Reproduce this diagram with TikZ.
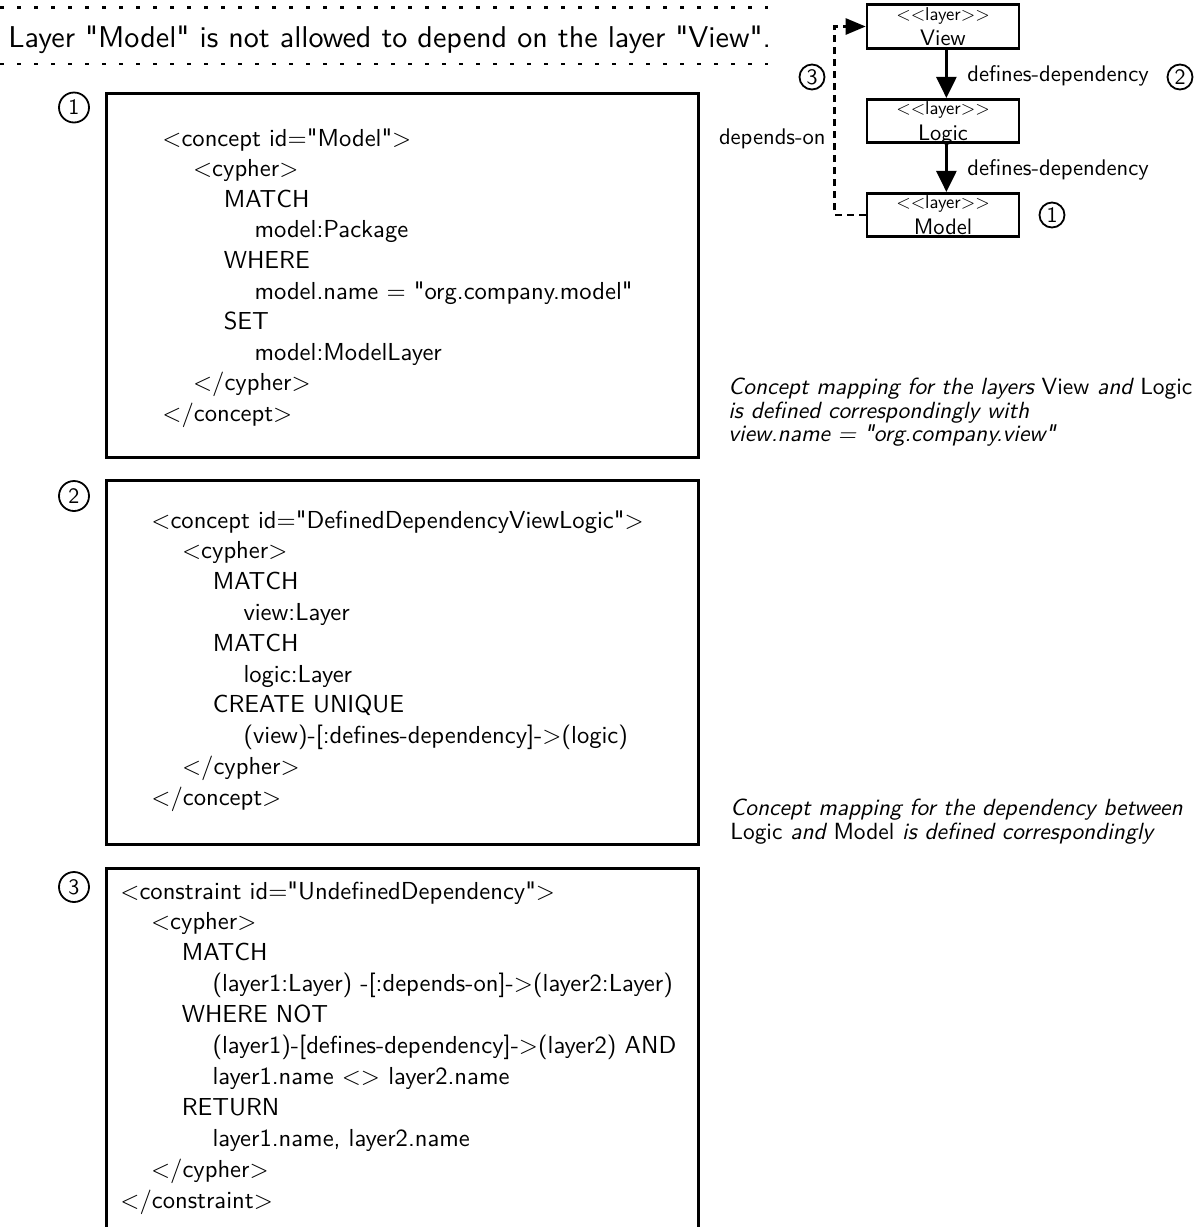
\documentclass[tikz,border=0pt]{standalone}
\usepackage{fontspec}
\newfontfamily\lms{lmsans10-regular.otf}[ItalicFont=lmsans10-oblique.otf]
\usetikzlibrary{arrows.meta,calc}

\begin{document}
\begin{tikzpicture}[x=0.5pt,y=-0.5pt,
  frame/.style={draw, line width=1.3pt, inner sep=0pt, anchor=north west,
    minimum width=296pt},
  code/.style={font=\lms\fontsize{12.3}{14}\selectfont, inner sep=0pt, anchor=base west},
  num/.style={draw, circle, line width=0.9pt, inner sep=0pt, minimum size=15pt,
    font=\lms\fontsize{11}{11}\selectfont},
  smallnum/.style={num, minimum size=12.5pt},
  layerbox/.style={draw, line width=1.3pt, inner sep=0pt, minimum width=76pt,
    minimum height=21.75pt},
  stereo/.style={font=\lms\fontsize{9.3}{9.3}\selectfont, inner sep=0pt, anchor=base},
  lname/.style={font=\lms\fontsize{11.2}{11.2}\selectfont, inner sep=0pt, anchor=base},
  lbl/.style={font=\lms\fontsize{11.3}{11.3}\selectfont, inner sep=0pt},
  note/.style={font=\lms\itshape\fontsize{11.7}{10.6}\selectfont,
    inner sep=0pt, anchor=north west, align=left},
  defarrow/.style={line width=1.3pt, -{Triangle[length=10.5pt,width=10pt]}},
  deparrow/.style={line width=1.3pt, dash pattern=on 3.5pt off 2.5pt,
    -{Triangle[length=10pt,width=8pt]}},
  rule/.style={line width=1.2pt, dash pattern=on 2pt off 6.5pt}
]
\useasboundingbox (0,0) rectangle (1203,1227);

% heading between two dotted rules
\draw[rule] (0,7.5) -- (768,7.5);
\draw[rule] (0,64) -- (768,64);
\node[font=\lms\fontsize{15.05}{17}\selectfont, inner sep=0pt, anchor=base west]
  (title) at (8,47.5) {Layer "Model" is not allowed to depend on the layer "View".};

% listing frames
\node[frame, minimum height=182pt] (box1) at (105,92) {};
\node[frame, minimum height=182pt] (box2) at (105,479) {};
\node[frame, minimum height=200pt] (box3) at (105,867) {};

\node[num] (n1) at (74,107.5) {1};
\node[num] (n2) at (74,496) {2};
\node[num] (n3) at (74,887) {3};

% listing 1
\foreach [count=\n from 0] \lv/\tx in {
  0/{<concept id="Model">},
  1/{<cypher>},
  2/{MATCH},
  3/{model:Package},
  2/{WHERE},
  3/{model.name = "org.company.model"},
  2/{SET},
  3/{model:ModelLayer},
  1/{</cypher>},
  0/{</concept>}}
  \node[code] (a\n) at ({162+30.7*\lv},{146+30.6*\n}) {\tx};

% listing 2
\foreach [count=\n from 0] \lv/\tx in {
  0/{<concept id="DefinedDependencyViewLogic">},
  1/{<cypher>},
  2/{MATCH},
  3/{view:Layer},
  2/{MATCH},
  3/{logic:Layer},
  2/{CREATE UNIQUE},
  3/{(view)-[:defines-dependency]->(logic)},
  1/{</cypher>},
  0/{</concept>}}
  \node[code] (b\n) at ({151+30.7*\lv},{528+30.8*\n}) {\tx};

% listing 3
\foreach [count=\n from 0] \lv/\tx in {
  0/{<constraint id="UndefinedDependency">},
  1/{<cypher>},
  2/{MATCH},
  3/{(layer1:Layer) -[:depends-on]->(layer2:Layer)},
  2/{WHERE NOT},
  3/{(layer1)-[defines-dependency]->(layer2) AND},
  3/{layer1.name <> layer2.name},
  2/{RETURN},
  3/{layer1.name, layer2.name},
  1/{</cypher>},
  0/{</constraint>}}
  \node[code] (c\n) at ({120+30.7*\lv},{899+30.9*\n}) {\tx};

% remarks
\node[note] (rem1) at (728,378) {Concept mapping for the layers {\upshape View} and {\upshape Logic}\\
  is defined correspondingly with\\
  view.name = "org.company.view"};
\node[note] (rem2) at (730,799) {Concept mapping for the dependency between\\
  {\upshape Logic} and {\upshape Model} is defined correspondingly};

% layer diagram
\node[layerbox] (view) at (943,26.5) {};
\node[layerbox] (logic) at (943,121) {};
\node[layerbox] (model) at (943,215) {};
\foreach \l/\t in {view/View, logic/Logic, model/Model}{
  \node[stereo] (\l-st) at ($(\l.north)+(0,17)$) {<<layer>>};
  \node[lname] (\l-nm) at ($(\l.south)+(0,-4)$) {\t};
}

\draw[defarrow] ([xshift=1.7pt]view.south) -- ([xshift=1.7pt]logic.north);
\draw[defarrow] ([xshift=1.7pt]logic.south) -- ([xshift=1.7pt]model.north);
\node[lbl, anchor=base west] (dd1) at (967,81.7) {defines-dependency};
\node[lbl, anchor=base west] (dd2) at (967,175.7) {defines-dependency};

\draw[deparrow] (model.west) -- ++(-31,0) |- (view.west);
\node[lbl, anchor=base east] (dep) at (826,144) {depends-on};

\node[smallnum] (r2) at (1180,77) {2};
\node[smallnum] (r1) at (1052,215) {1};
\node[smallnum] (r3) at (812,77) {3};
\end{tikzpicture}
\end{document}
